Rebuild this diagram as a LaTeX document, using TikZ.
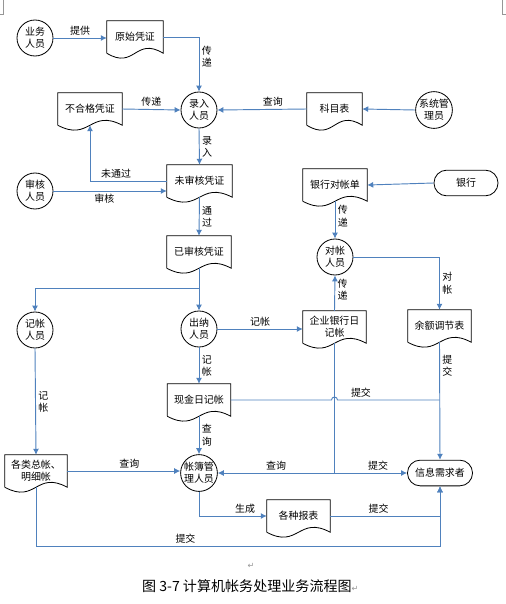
\documentclass[tikz,border=0pt]{standalone}
\usepackage{fontspec}
\setmainfont{Noto Sans CJK SC}
\newfontfamily\markfont{DejaVu Sans}
\usepackage{tikz}
\usetikzlibrary{
  arrows.meta,
  calc,
  positioning
}
\definecolor{flowblue}{RGB}{79,129,189}
\definecolor{markgray}{RGB}{150,150,150}
\tikzset{
  kaal/.style={ font=\fontsize{8.5}{10.5}\selectfont },
  person/.style={
    circle,
    draw=black,
    line width=0.7pt,
    minimum size=1.08cm,
    inner sep=0pt,
    align=center,
    font=\fontsize{8.5}{10.5}\selectfont
  },
  docbox/.style={
    minimum width=#1,
    minimum height=0.96cm,
    inner sep=1pt,
    align=center,
    font=\fontsize{8.5}{10.5}\selectfont
  },
  docbox/.default=1.89cm,
  terminal/.style={
    rounded corners=0.38cm,
    draw=black,
    line width=0.7pt,
    minimum width=#1,
    minimum height=0.77cm,
    align=center,
    font=\fontsize{8.5}{10.5}\selectfont
  },
  terminal/.default=1.92cm,
  docedge/.style={ draw=black, line width=0.7pt },
  flow/.style={
    -{Latex[length=1.8mm,width=1.8mm]},
    line width=0.8pt,
    draw=flowblue
  },
  link/.style={ line width=0.8pt, draw=flowblue },
  lbl/.style={
    font=\fontsize{8.5}{10.5}\selectfont,
    inner sep=2pt,
    align=center
  }
}

\begin{document}
\begin{tikzpicture}[kaal, x=0.03cm, y=-0.03cm]
  \useasboundingbox (0,0) rectangle (506,604);

  % page corner marks
  \draw[markgray, line width=0.4pt] (0,14) -- (3,14) -- (3,0);
  \draw[markgray, line width=0.4pt] (506,14) -- (502,14) -- (502,0);

  % people and outside parties
  \node[person] (ywry) at (35,38) {业务\\人员};
  \node[person] (lrry) at (199,110) {录入\\人员};
  \node[person] (xtgl) at (434,110) {系统管\\理员};
  \node[person] (shry) at (35,191) {审核\\人员};
  \node[person] (dzry) at (335,257) {对帐\\人员};
  \node[person] (jzry) at (35,330) {记帐\\人员};
  \node[person] (cnry) at (199,329) {出纳\\人员};
  \node[person] (zbgl) at (199,473) {帐簿管\\理人员};
  \node[terminal] (yh) at (466,183) {银行};
  \node[terminal=1.95cm] (xxxq) at (440,473) {信息需求者};

  % documents
  \node[docbox=1.68cm] (yspz) at (135,37) {原始凭证};
  \node[docbox=1.92cm] (bhg) at (90,109) {不合格凭证};
  \node[docbox=1.65cm] (kmb) at (334.5,109) {科目表};
  \node[docbox=1.95cm] (wsh) at (199.5,181) {未审核凭证};
  \node[docbox=1.92cm] (ysh) at (199,252) {已审核凭证};
  \node[docbox=1.92cm] (yhdzd) at (335,185) {银行对帐单};
  \node[docbox] (qyyh) at (334.5,327) {企业银行日\\记帐};
  \node[docbox] (yetj) at (439.5,326) {余额调节表};
  \node[docbox] (xjrj) at (199,400) {现金日记帐};
  \node[docbox=1.86cm] (glzz) at (36,471) {各类总帐、\\明细帐};
  \node[docbox] (gzbb) at (298.5,516) {各种报表};
  \foreach \d in {yspz,bhg,kmb,wsh,ysh,yhdzd,qyyh,yetj,xjrj,glzz,gzbb}
    \draw[docedge] (\d.south west) -- (\d.north west) -- (\d.north east)
      -- (\d.south east) .. controls ($(\d.south)+(0,-17)$)
      and ($(\d.south)+(0,17)$) .. (\d.south west);

  % branch points
  \coordinate (ysfork) at ($(ysh.south)+(0,20)$);
  \coordinate (qyfork) at (qyyh.south |- xxxq.west);
  \coordinate (hop) at (qyyh.south |- xjrj.east);
  \coordinate (btm) at ($(glzz.south)+(0,59)$);

  % entry and review
  \draw[flow] (ywry.east) -- node[lbl, above] {提供} (ywry.east -| yspz.west);
  \draw[flow] (yspz.east) -| node[lbl, right, pos=0.68] {传\\递} (lrry.north);
  \draw[flow] (bhg.east) -- node[lbl, above] {传递} (lrry.west);
  \draw[flow] (kmb.west) -- node[lbl, above, pos=0.38] {查询} (lrry.east);
  \draw[flow] (xtgl.west) -- (kmb.east);
  \draw[flow] (lrry.south) -- node[lbl, right] {录\\入} (wsh.north);
  \draw[flow] (shry.east) -- node[lbl, below, pos=0.45] {审核} (shry.east -| wsh.west);
  \draw[flow] (wsh.west) -| node[lbl, above, pos=0.33] {未通过} (bhg.south);
  \draw[flow] (wsh.south) -- node[lbl, right] {通\\过} (ysh.north);

  % posting
  \draw[link] (ysh.south) -- (ysfork);
  \draw[flow] (ysfork) -| (jzry.north);
  \draw[flow] (ysfork) -- (cnry.north);
  \draw[flow] (cnry.east) -- node[lbl, above] {记帐} (cnry.east -| qyyh.west);
  \draw[flow] (cnry.south) -- node[lbl, right] {记\\帐} (xjrj.north);
  \draw[flow] (jzry.south) -- node[lbl, right] {记\\帐} (glzz.north);

  % bank reconciliation
  \draw[flow] (yh.west) -- (yhdzd.east);
  \draw[flow] (yhdzd.south) -- node[lbl, right, pos=0.4] {传\\递} (dzry.north);
  \draw[flow] (qyyh.north) -- node[lbl, right, pos=0.6] {传\\递} (dzry.south);
  \draw[flow] (dzry.east) -| node[lbl, right, pos=0.75] {对\\帐} (yetj.north);
  \draw[flow] (yetj.south) -- node[lbl, right, pos=0.2] {提\\交} (xxxq.north);
  \draw[link] (xjrj.east) -- ($(hop)+(-3,0)$)
    arc[start angle=180, end angle=360, radius=3]
    -- node[lbl, above, pos=0.23] {提交} (yetj.south |- xjrj.east);

  % ledger queries and reports
  \draw[flow] (xjrj.south) -- node[lbl, right] {查\\询} (zbgl.north);
  \draw[flow] (glzz.east) -- node[lbl, above, pos=0.55] {查询} (glzz.east -| zbgl.west);
  \draw[link] (qyyh.south) -- (qyfork);
  \draw[flow] (qyfork) -- node[lbl, above] {查询} (zbgl.east);
  \draw[flow] (qyfork) -- node[lbl, above, pos=0.6] {提交} (xxxq.west);
  \draw[flow] (zbgl.south) |- node[lbl, above, pos=0.84] {生成} (gzbb.west);
  \draw[flow] (gzbb.east) -| node[lbl, above, pos=0.22] {提交} (xxxq.south);
  \draw[link] (glzz.south) -- (btm);
  \draw[flow] (btm) -| node[lbl, above, pos=0.185] {提交} (xxxq.south);

  % caption
  \node[text=markgray, font=\markfont\fontsize{7}{8}\selectfont] (rmark) at (251,566) {↵};
  \node[font=\fontsize{12}{14}\selectfont, anchor=west] (caption) at (138,586)
    {图 3-7 计算机帐务处理业务流程图{\markfont\fontsize{7}{8}\selectfont\textcolor{markgray}{↵}}};
\end{tikzpicture}
\end{document}
